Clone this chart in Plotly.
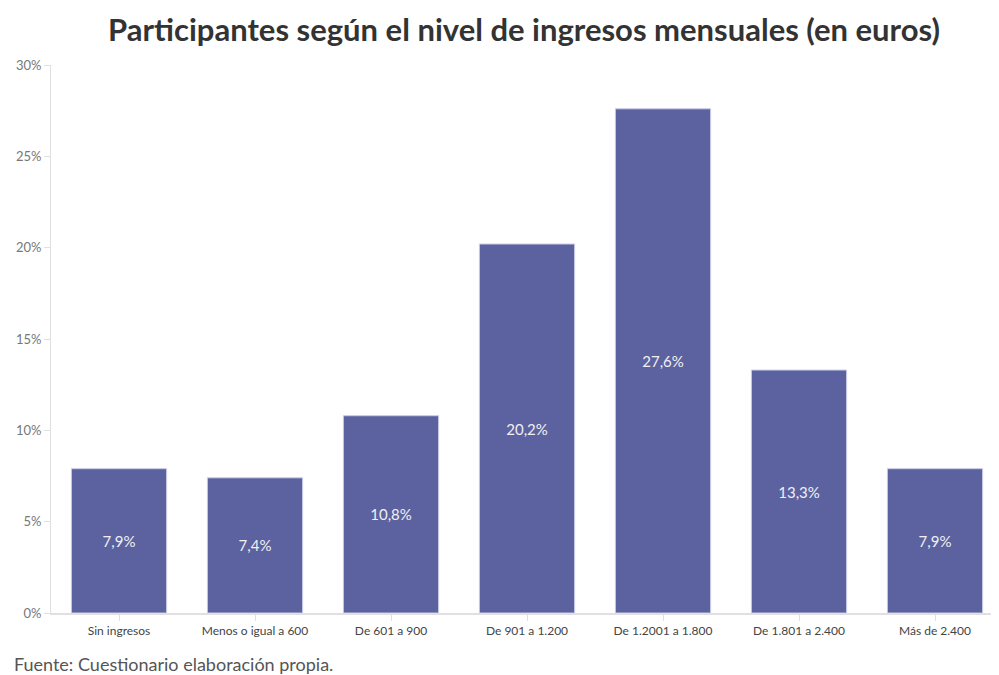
import plotly.graph_objects as go

categories = ["Sin ingresos", "Menos o igual a 600", "De 601 a 900", "De 901 a 1.200",
              "De 1.2001 a 1.800", "De 1.801 a 2.400", "Más de 2.400"]
values = [7.9, 7.4, 10.8, 20.2, 27.6, 13.3, 7.9]
labels = ["7,9%", "7,4%", "10,8%", "20,2%", "27,6%", "13,3%", "7,9%"]
y_ticks = [0, 5, 10, 15, 20, 25, 30]
y_ticklabels = ["0%", "5%", "10%", "15%", "20%", "25%", "30%"]

PW = 952  # plot width in px
PH = 548  # plot height in px

fig = go.Figure(go.Bar(
    x=categories, y=values, text=labels, textposition="inside",
    insidetextanchor="middle",
    textfont=dict(color="#f0f0f0", size=15, family="Lato"),
    marker=dict(color="#5c62a0", line=dict(color="#c9cbe3", width=1)),
    width=0.7,
    hoverinfo="skip",
))

fig.update_layout(
    width=999, height=675,
    paper_bgcolor="white", plot_bgcolor="white",
    margin=dict(l=43, r=4, t=57, b=70, autoexpand=False),
    font=dict(family="Lato", color="#555"),
    title=dict(text="<b>Participantes según el nivel de ingresos mensuales (en euros)</b>",
               x=(516 - 43) / PW, xanchor="center", xref="paper", y=1 - 22/675, yanchor="middle",
               font=dict(size=31, color="#333", family="Lato")),
    showlegend=False,
)
fig.update_yaxes(range=[0, 30], tickvals=y_ticks, ticktext=y_ticklabels, automargin=False,
                 showgrid=False, zeroline=False, showline=True, linecolor="#e0e0e0",
                 ticks="outside", ticklen=6, tickcolor="#e0e0e0",
                 tickfont=dict(size=13, color="#777"))
fig.update_xaxes(showgrid=False, showline=True, linecolor="#e0e0e0", linewidth=2, automargin=False,
                 ticks="outside", ticklen=6, tickcolor="#e0e0e0",
                 tickfont=dict(size=12, color="#444"), tickangle=0)
fig.add_annotation(text="Fuente: Cuestionario elaboración propia.",
                   xref="paper", yref="paper", x=-39/PW, y=-51/PH,
                   xanchor="left", yanchor="middle", showarrow=False,
                   font=dict(size=18, color="#555", family="Lato"))
fig.write_html("out.html")
